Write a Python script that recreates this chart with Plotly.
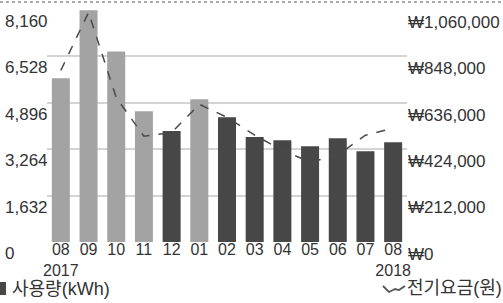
import plotly.graph_objects as go

# ---- data ----
months = ["2017-08", "2017-09", "2017-10", "2017-11", "2017-12", "2018-01", "2018-02",
          "2018-03", "2018-04", "2018-05", "2018-06", "2018-07", "2018-08"]
month_labels = ["08<br>2017", "09", "10", "11", "12", "01", "02",
                "03", "04", "05", "06", "07", "08<br>2018"]
usage_kwh = [5760, 8150, 6700, 4600, 3900, 5020, 4390, 3690, 3580, 3370, 3650, 3190, 3510]
bill_won = [784000, 1049000, 660000, 483000, 500000, 629000, 570000, 488000, 419000,
            365000, 397000, 488000, 520000]
bar_shade = ["light", "light", "light", "light", "dark", "light", "dark",
             "dark", "dark", "dark", "dark", "dark", "dark"]
left_ticks = [0, 1632, 3264, 4896, 6528, 8160]
left_tick_text = ["0", "1,632", "3,264", "4,896", "6,528", "8,160"]
right_ticks = [0, 212000, 424000, 636000, 848000, 1060000]
right_tick_text = ["₩0", "₩212,000", "₩424,000", "₩636,000", "₩848,000", "₩1,060,000"]
usage_name = "사용량(kWh)"
bill_name = "전기요금(원)"

FONT = "Liberation Sans, Arial, Noto Sans CJK KR, sans-serif"
TXT = "#333333"
LIGHT, DARK = "#a3a3a3", "#474747"

fig = go.Figure()
fig.add_trace(go.Bar(
    x=months, y=[v if s == "light" else None for v, s in zip(usage_kwh, bar_shade)],
    name=usage_name, showlegend=False,
    marker=dict(color=LIGHT, line=dict(width=0)), yaxis="y",
))
fig.add_trace(go.Bar(
    x=months, y=[v if s == "dark" else None for v, s in zip(usage_kwh, bar_shade)],
    name=usage_name, showlegend=False,
    marker=dict(color=DARK, line=dict(width=0)), yaxis="y",
))
fig.add_trace(go.Scatter(
    x=months, y=bill_won, name=bill_name, mode="lines", showlegend=False,
    line=dict(color="#4a4a4a", width=1.5, dash="dash"),
    yaxis="y2",
))

W, H = 503, 303
ml, mr, mt, mb = 47, 96, 10, 61
pw = W - ml - mr
ph = H - mt - mb


def px_x(px):
    return (px - ml) / pw


def px_y(py):
    return (H - mb - py) / ph


annotations = []
for v, t in zip(left_ticks, left_tick_text):
    annotations.append(dict(
        x=px_x(3), xref="paper", xanchor="left",
        y=v, yref="y", yanchor="top",
        text=t, showarrow=False, font=dict(family=FONT, size=17, color=TXT),
    ))

# legend (as text items at the bottom)
annotations += [
    dict(x=px_x(10), y=px_y(289), xref="paper", yref="paper", xanchor="left", yanchor="middle",
         text=usage_name, showarrow=False, font=dict(family=FONT, size=18, color=TXT)),
    dict(x=px_x(405), y=px_y(288), xref="paper", yref="paper", xanchor="left", yanchor="middle",
         text=bill_name, showarrow=False, font=dict(family=FONT, size=18, color=TXT)),
]

icon_pts = [(383, 286), (389, 292), (395, 289), (399, 290), (405, 286)]
icon_path = "M " + " L ".join(f"{px_x(a):.4f},{px_y(b):.4f}" for a, b in icon_pts)

fig.update_layout(
    width=W, height=H,
    margin=dict(l=ml, r=mr, t=mt, b=mb, autoexpand=False),
    paper_bgcolor="white", plot_bgcolor="white",
    font=dict(family=FONT, size=16, color=TXT),
    bargap=0.35, barmode="overlay",
    showlegend=False,
    xaxis=dict(
        type="category", tickvals=months, ticktext=month_labels, tickangle=0,
        showgrid=False, zeroline=False, showline=False, ticks="",
        ticklabelstandoff=-4,
        tickfont=dict(family=FONT, size=16, color=TXT),
    ),
    yaxis=dict(
        range=[0, 8160], tickvals=left_ticks, showticklabels=False,
        showgrid=True, gridcolor="#d4d4d4", gridwidth=1.5,
        zeroline=False, showline=False, ticks="",
    ),
    yaxis2=dict(
        range=[0, 1060000], overlaying="y", side="right",
        tickvals=right_ticks, ticktext=right_tick_text,
        ticklabelposition="outside bottom",
        showgrid=False, zeroline=False, showline=False, ticks="",
        tickfont=dict(family=FONT, size=17, color=TXT),
    ),
    annotations=annotations,
    shapes=[
        dict(type="line", xref="paper", yref="paper",
             x0=px_x(0), x1=px_x(W), y0=px_y(2), y1=px_y(2),
             line=dict(color="#555555", width=1.2, dash="dot")),
        dict(type="rect", xref="paper", yref="paper",
             x0=px_x(0), x1=px_x(6), y0=px_y(295), y1=px_y(282),
             fillcolor=DARK, line=dict(width=0)),
        dict(type="path", xref="paper", yref="paper", path=icon_path,
             line=dict(color="#555555", width=1.8)),
    ],
)

fig.write_html("out.html", config={"displayModeBar": False},
               post_script="document.body.style.margin='0';")
